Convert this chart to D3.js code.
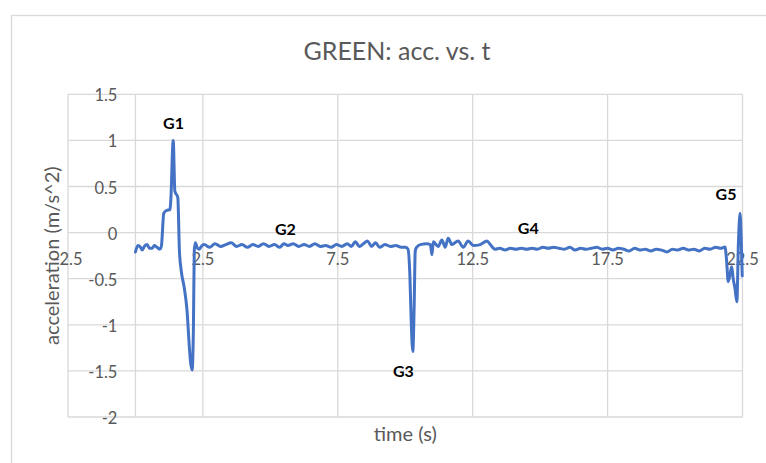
<!DOCTYPE html>
<html>
<head>
<meta charset="utf-8">
<script src="https://cdn.jsdelivr.net/npm/d3@7"></script>
<style>
  body { margin: 0; background: #fff; }
  svg text { font-family: Lato, "Open Sans", sans-serif; }
</style>
</head>
<body>
<div id="chart"></div>
<script>
// time (s) and acceleration (m/s^2)
var time = [
  0.00, 0.09, 0.19, 0.25, 0.33, 0.43, 0.52, 0.62, 0.70, 0.80, 0.90, 0.96,
  1.05, 1.15, 1.28, 1.31, 1.40, 1.46, 1.57, 1.63, 1.70, 1.81, 1.91, 2.00, 2.04, 2.10,
  2.15, 2.18, 2.22, 2.30, 2.37, 2.44,
  2.55, 2.75, 2.95, 3.15, 3.35, 3.55, 3.75, 3.95, 4.15, 4.35, 4.55, 4.75, 4.95,
  5.15, 5.35, 5.50, 5.65, 5.85, 6.05, 6.25, 6.45, 6.65, 6.85, 7.05, 7.25, 7.45,
  7.65, 7.85, 8.00, 8.15, 8.30, 8.45, 8.60, 8.75, 8.90, 9.05, 9.25, 9.45, 9.65, 9.85,
  10.00, 10.10, 10.17, 10.22, 10.28, 10.33, 10.37, 10.42,
  10.56, 10.80, 10.93, 10.99, 11.04, 11.22, 11.36, 11.48, 11.59, 11.73, 11.96,
  12.15, 12.33, 12.52, 12.78, 13.03, 13.15, 13.33,
  13.50, 13.70, 13.90, 14.10, 14.30, 14.50, 14.70, 14.90, 15.10, 15.30, 15.50,
  15.70, 15.90, 16.10, 16.30, 16.50, 16.70, 16.90, 17.10, 17.30, 17.50, 17.70,
  17.90, 18.10, 18.30, 18.50, 18.70, 18.90, 19.10, 19.30, 19.50, 19.70, 19.90,
  20.10, 20.30, 20.50, 20.70, 20.90, 21.10, 21.30, 21.50, 21.70, 21.85,
  21.91, 21.97, 22.04, 22.10, 22.16, 22.22, 22.29, 22.35, 22.41, 22.46, 22.49
];
var accel = [
  -0.21, -0.14, -0.16, -0.19, -0.15, -0.13, -0.17, -0.17, -0.14, -0.16, -0.18, -0.15,
  0.21, 0.24, 0.25, 0.35, 1.00, 0.45, 0.38, -0.20, -0.42, -0.60, -0.84, -1.25, -1.40, -1.49,
  -1.00, -0.20, -0.11, -0.17, -0.18, -0.15,
  -0.13, -0.16, -0.12, -0.15, -0.13, -0.11, -0.15, -0.13, -0.16, -0.13, -0.15, -0.12, -0.15,
  -0.13, -0.16, -0.12, -0.14, -0.12, -0.15, -0.13, -0.15, -0.12, -0.15, -0.14, -0.16, -0.13,
  -0.15, -0.12, -0.15, -0.10, -0.15, -0.12, -0.09, -0.15, -0.11, -0.16, -0.13, -0.15, -0.14, -0.16,
  -0.16, -0.18, -0.45, -0.95, -1.29, -0.80, -0.20, -0.16,
  -0.13, -0.12, -0.13, -0.24, -0.10, -0.15, -0.08, -0.16, -0.06, -0.13, -0.09,
  -0.16, -0.09, -0.14, -0.13, -0.09, -0.13, -0.18,
  -0.17, -0.19, -0.17, -0.18, -0.17, -0.18, -0.17, -0.18, -0.16, -0.17, -0.16,
  -0.17, -0.18, -0.16, -0.19, -0.17, -0.18, -0.17, -0.16, -0.18, -0.17, -0.19,
  -0.17, -0.18, -0.20, -0.17, -0.19, -0.18, -0.20, -0.18, -0.19, -0.21, -0.18,
  -0.19, -0.17, -0.19, -0.18, -0.20, -0.17, -0.18, -0.16, -0.17, -0.155,
  -0.30, -0.53, -0.45, -0.37, -0.51, -0.60, -0.75, -0.10, 0.21, -0.15, -0.47
];

var xTicks = [-2.5, 2.5, 7.5, 12.5, 17.5, 22.5];
var yTicks = [-2, -1.5, -1, -0.5, 0, 0.5, 1, 1.5];

// annotation text and where it sits (in data units)
var labelNames = ["G1", "G2", "G3", "G4", "G5"];
var labelTimes = [1.41, 5.56, 9.93, 14.56, 21.89];
var labelValues = [1.12, -0.03, -1.565, -0.01, 0.35];

var width = 766, height = 463;
var margin = {top: 94.3, right: 23.5, bottom: 46, left: 68};

var svg = d3.select("#chart").append("svg")
    .attr("width", width)
    .attr("height", height);

// chart area border
svg.append("rect")
    .attr("x", 11.5).attr("y", 15.5)
    .attr("width", 800).attr("height", 500)
    .attr("fill", "none")
    .attr("stroke", "#d9d9d9")
    .attr("stroke-width", 1.3);

var x = d3.scaleLinear().domain([-2.5, 22.5]).range([margin.left, width - margin.right]);
var y = d3.scaleLinear().domain([-2, 1.5]).range([height - margin.bottom, margin.top]);

var grid = svg.append("g").attr("class", "grid")
    .attr("stroke", "#d9d9d9").attr("stroke-width", 1.3);

grid.selectAll(".h").data(yTicks).enter().append("line")
    .attr("x1", x(-2.5)).attr("x2", x(22.5))
    .attr("y1", d => y(d)).attr("y2", d => y(d));

grid.selectAll(".v").data(xTicks).enter().append("line")
    .attr("x1", d => x(d)).attr("x2", d => x(d))
    .attr("y1", y(1.5)).attr("y2", y(-2));

// value axis crosses at t = 0
svg.append("line")
    .attr("x1", x(0)).attr("x2", x(0))
    .attr("y1", y(1.5)).attr("y2", y(-2))
    .attr("stroke", "#d9d9d9").attr("stroke-width", 1.3);

// tick labels
svg.append("g").selectAll("text").data(yTicks).enter().append("text")
    .attr("x", x(0) - 18)
    .attr("y", d => y(d) + 1)
    .attr("text-anchor", "end")
    .attr("dominant-baseline", "central")
    .attr("fill", "#595959")
    .attr("font-size", 16.5)
    .text(d => d);

svg.append("g").selectAll("text").data(xTicks).enter().append("text")
    .attr("x", d => x(d))
    .attr("y", y(0) + 26)
    .attr("text-anchor", "middle")
    .attr("dominant-baseline", "central")
    .attr("fill", "#595959")
    .attr("font-size", 16.5)
    .text(d => d);

var line = d3.line()
    .x(d => x(d[0]))
    .y(d => y(d[1]))
    .curve(d3.curveMonotoneX);

svg.append("path")
    .datum(d3.zip(time, accel))
    .attr("fill", "none")
    .attr("stroke", "#4472c4")
    .attr("stroke-width", 3)
    .attr("stroke-linejoin", "round")
    .attr("stroke-linecap", "round")
    .attr("d", line);

svg.append("g").selectAll("text").data(labelNames).enter().append("text")
    .attr("x", (d, i) => x(labelTimes[i]))
    .attr("y", (d, i) => y(labelValues[i]))
    .attr("text-anchor", "middle")
    .attr("font-weight", "bold")
    .attr("font-size", 16)
    .attr("fill", "#000")
    .text(d => d);

// titles
svg.append("text")
    .attr("x", 397).attr("y", 60)
    .attr("text-anchor", "middle")
    .attr("fill", "#595959")
    .attr("font-size", 25)
    .text("GREEN: acc. vs. t");

svg.append("text")
    .attr("x", (x(-2.5) + x(22.5)) / 2).attr("y", 441)
    .attr("text-anchor", "middle")
    .attr("fill", "#595959")
    .attr("font-size", 20)
    .text("time (s)");

svg.append("text")
    .attr("transform", "translate(59," + ((y(1.5) + y(-2)) / 2) + ") rotate(-90)")
    .attr("text-anchor", "middle")
    .attr("fill", "#595959")
    .attr("font-size", 20)
    .text("acceleration (m/s^2)");
</script>
</body>
</html>
